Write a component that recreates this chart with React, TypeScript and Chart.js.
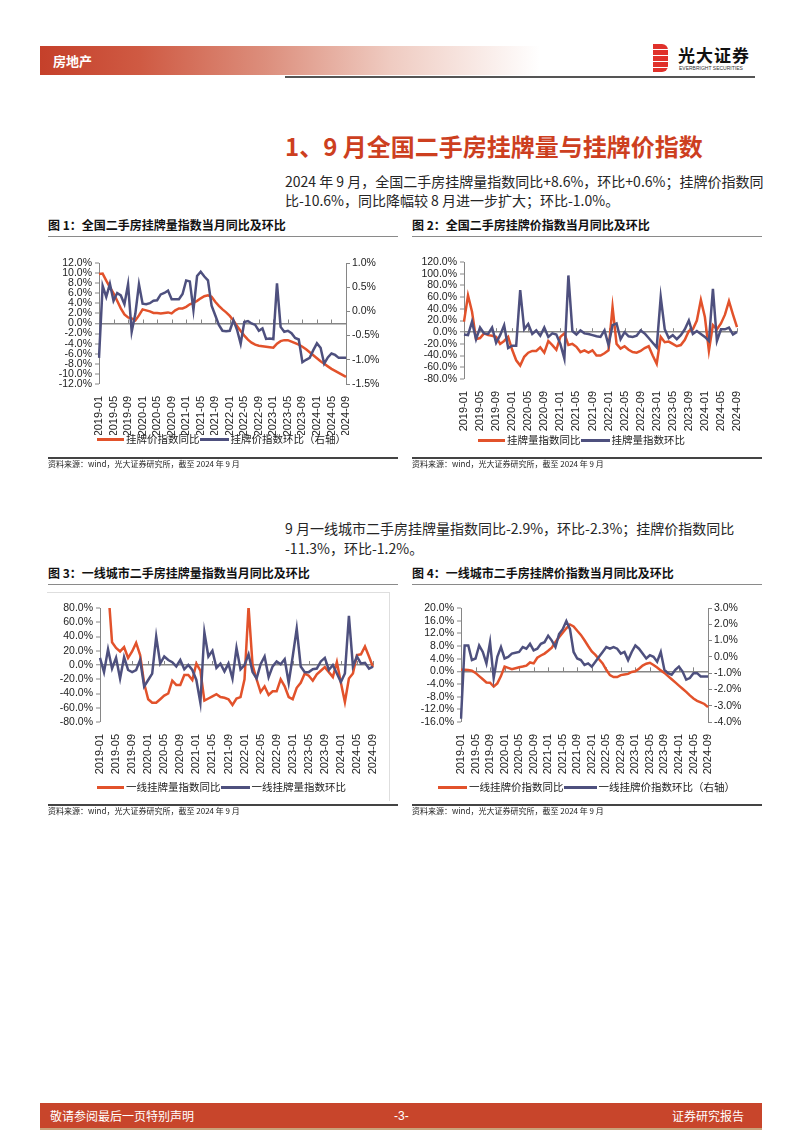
import React, { useEffect, useRef } from "react";
import { Chart, registerables } from "chart.js";

Chart.register(...registerables);

const FONT = "'Liberation Sans', Arial, 'Noto Sans CJK SC', sans-serif";
const CJK = "'Noto Sans CJK SC', 'Liberation Sans', sans-serif";
const RED = "#E2522B";
const BLUE = "#4E507E";
const AXIS = "#868686";

const MONTHS: string[] = [];
for (let y = 2019; y <= 2024; y++) {
  for (let m = 1; m <= 12; m++) {
    if (y === 2024 && m > 9) break;
    MONTHS.push(`${y}-${String(m).padStart(2, "0")}`);
  }
}

// 图1 全国挂牌价指数
const natPriceYoY = [
  9.8, 9.9, 8.5, 7.2, 6.0, 4.5, 3.0, 1.8, 1.2, 1.0, 0.6, 1.6,
  2.8, 2.6, 2.4, 2.1, 2.1, 2.0, 2.1, 2.2, 2.0, 2.6, 3.0, 3.0,
  3.3, 3.8, 4.1, 4.5, 5.0, 5.4, 5.6, 5.3, 4.3, 3.5, 2.8, 2.2,
  1.5, 0.6, -0.5, -1.5, -2.4, -3.2, -3.8, -4.2, -4.4, -4.5, -4.6, -4.7,
  -4.8, -4.0, -3.5, -3.3, -3.3, -3.6, -3.9, -4.2, -4.6, -5.1, -5.7, -6.3,
  -6.9, -7.5, -8.0, -8.5, -9.0, -9.4, -9.8, -10.2, -10.6,
];
const natPriceMoM = [
  -0.96, 0.53, 0.3, 0.57, 0.22, 0.38, 0.33, 0.15, 0.56, -0.42, -0.05, 0.56,
  0.16, 0.15, 0.17, 0.22, 0.23, 0.35, 0.38, 0.43, 0.25, 0.25, 0.25, 0.36,
  0.64, 0.62, 0.03, 0.73, 0.82, 0.72, 0.64, 0.12, -0.08, -0.28, -0.4, -0.41,
  -0.4, -0.18, -0.38, -0.67, -0.22, -0.2, -0.25, -0.28, -0.4, -0.35, -0.57, -0.56,
  -0.57, 0.58, -0.32, -0.42, -0.4, -0.45, -0.55, -0.58, -1.05, -1.0, -0.96, -0.8,
  -0.66, -0.75, -1.08, -0.95, -0.87, -0.9, -0.96, -0.96, -0.96,
];

// 图2 全国挂牌量指数
const natVolYoY = [
  18, 63, 35, -12, -10, -2, -5, -6, -8, -20, -15, -8,
  -30, -48, -57, -42, -35, -32, -32, -26, -35, -15, -22, -30,
  -8, -2, -22, -20, -25, -34, -31, -35, -31, -40, -40, -36,
  -31, 43, -20, -28, -24, -30, -34, -35, -32, -27, -24, -40,
  -54, -8, -17, -16, -20, -24, -22, -13, 2, 5, 20, 55,
  26, -32, 12, 5, 15, 30, 53, 30, 8.6,
];
const natVolMoM = [
  -4, -5, 18, -12, 8, -2, -3, 8, -18, -5, 12, -27,
  -23, -23, 72, 5, 14, -3, 3, -6, 8, -8, -2, -4,
  -20, -45, 97, 2, -4, 3, -2, -3, -5, -7, -8, 3,
  -22, 12, 15, -12, 0, -7, -8, -6, 3, -2, -10, -18,
  -26, 60, 5, -10, -5, -12, -5, 5, 20, -3, 2, -3,
  -8, -15, 74, -15, 5, 5, 8, -4, 0.6,
];

// 图3 一线城市挂牌量指数
const t1VolYoY: (number | null)[] = [
  null, null, 110, 32, 24, 19, 25, 10, 19, 31, 14, -26,
  -48, -53, -53, -48, -43, -40, -22, -28, -28, -14, -14, -21,
  2, -8, -50, -47, -44, -41, -45, -46, -48, -56, -47, -45,
  -20, 82, 0, -20, -38, -30, -42, -37, -37, -20, -30, -45,
  -48, -32, -25, -12, -15, -22, -13, -8, -3, -10, -17, 4,
  -25, -52, -19, -12, 14, 15, 26, 12, -2.9,
];
const t1VolMoM = [
  10, -10, 22, -5, 10, -19, 11, -7, -10, -7, 7, -30,
  -21, -12, 40, 2, 12, 7, 4, -2, 7, -6, 0, -7,
  -21, -53, 46, 12, 20, -4, 2, -9, 2, -19, 24, -6,
  0, 15, -10, -19, 1, 12, -17, -2, 5, 1, 8, -25,
  12, 51, -2, -10, -10, -6, -5, 5, 10, -7, 0, -12,
  -24, -12, 69, -2, 12, 2, 3, -5, -2.3,
];

// 图4 一线城市挂牌价指数
const t1PriceYoY = [
  0.5, 0.5, 0.4, 0.2, -0.5, -1.5, -2.5, -3.5, -3.6, -4.8, -3.8, -1.5,
  1.5, 1.1, 0.7, 1.0, 1.3, 1.5, 1.8, 2.8, 2.5, 4.3, 5.0, 5.6,
  6.5, 7.5, 9.3, 10.8, 12.2, 13.6, 14.8, 14.2, 12.8, 11.5, 9.8, 8.0,
  6.3, 5.2, 3.8, 2.5, 0.5, -1.2, -1.8, -1.8, -1.2, -1.0, -0.8, -0.2,
  0.0, 0.8, 1.8, 2.4, 2.7, 2.0, 1.2, 0.3, -0.5, -1.5, -2.5, -3.5,
  -4.5, -5.5, -6.5, -7.6, -8.6, -9.3, -9.8, -10.3, -11.3,
];
const t1PriceMoM = [
  -3.8, 0.7, 0.7, -0.2, -0.1, 0.7, 0.3, -0.4, 0.9, -1.3, 0.0, 0.6,
  -0.1, 0.0, 0.2, 0.25, 0.3, 0.6, 0.5, 0.8, 0.4, 0.5, 0.8, 0.9,
  1.3, 1.0, 0.6, 1.4, 1.7, 2.2, 1.7, 0.3, -0.1, -0.2, -0.5, -0.4,
  -0.6, -0.3, 0.0, 0.3, 0.6, 0.5, 0.6, 0.5, 0.2, 0.3, -0.2, 0.3,
  0.7, 0.5, 0.2, -0.1, 0.1, 0.0, -0.3, 0.3, -0.8, -1.0, -1.1, -0.8,
  -0.6, -0.9, -1.4, -1.3, -1.0, -1.0, -1.2, -1.2, -1.2,
];

type Range = { min: number; max: number; step: number };
type Area = { l: number; r: number; t: number; b: number };

const zeroTicks = {
  id: "zeroTicks",
  beforeDatasetsDraw(chart: any) {
    const x = chart.scales.x;
    const y = chart.scales.y;
    const ctx = chart.ctx;
    const y0 = y.getPixelForValue(0);
    ctx.save();
    ctx.strokeStyle = AXIS;
    ctx.lineWidth = 1;
    for (let i = 0; i < MONTHS.length; i += 4) {
      const px = Math.round(x.getPixelForValue(i)) + 0.5;
      ctx.beginPath();
      ctx.moveTo(px, y0);
      ctx.lineTo(px, y0 - 4);
      ctx.stroke();
    }
    ctx.restore();
  },
};

function LineChart(props: {
  left: number;
  top: number;
  width: number;
  height: number;
  area: Area;
  red: (number | null)[];
  blue: (number | null)[];
  redLabel: string;
  blueLabel: string;
  yl: Range;
  yr?: Range;
}) {
  const ref = useRef<HTMLCanvasElement>(null);
  const { left, top, width, height, area, red, blue, redLabel, blueLabel, yl, yr } = props;
  useEffect(() => {
    const pct = (v: any) => Number(v).toFixed(1) + "%";
    const scales: any = {
      x: {
        type: "category",
        offset: false,
        grid: { display: false },
        border: { display: false },
        ticks: {
          autoSkip: false,
          minRotation: 90,
          maxRotation: 90,
          padding: 4,
          color: "#222",
          font: { family: FONT, size: 11 },
          callback: (_v: any, i: number) => (i % 4 === 0 ? MONTHS[i] : ""),
        },
        afterFit: (s: any) => {
          s.height = height - area.b;
        },
      },
      y: {
        position: "left",
        min: yl.min,
        max: yl.max,
        ticks: {
          stepSize: yl.step,
          autoSkip: false,
          padding: 3,
          color: "#222",
          font: { family: FONT, size: 10.5 },
          callback: pct,
        },
        grid: {
          color: (c: any) => (c.tick && c.tick.value === 0 ? AXIS : "rgba(0,0,0,0)"),
          lineWidth: (c: any) => (c.tick && c.tick.value === 0 ? 1.5 : 0),
          tickColor: AXIS,
          tickWidth: 1,
          tickLength: 4,
        },
        border: { display: true, color: AXIS, width: 1 },
        afterFit: (s: any) => {
          s.width = area.l;
        },
      },
    };
    if (yr) {
      scales.y1 = {
        position: "right",
        min: yr.min,
        max: yr.max,
        ticks: {
          stepSize: yr.step,
          autoSkip: false,
          padding: 2,
          color: "#222",
          font: { family: FONT, size: 10.5 },
          callback: pct,
        },
        grid: { drawOnChartArea: false, tickColor: AXIS, tickWidth: 1, tickLength: 4 },
        border: { display: true, color: AXIS, width: 1 },
        afterFit: (s: any) => {
          s.width = width - area.r;
        },
      };
    }
    const chart = new Chart(ref.current as HTMLCanvasElement, {
      type: "line",
      data: {
        labels: MONTHS,
        datasets: [
          {
            label: redLabel,
            data: red as any,
            borderColor: RED,
            backgroundColor: RED,
            borderWidth: 2.5,
            pointRadius: 0,
            tension: 0,
            yAxisID: "y",
            order: 1,
          },
          {
            label: blueLabel,
            data: blue as any,
            borderColor: BLUE,
            backgroundColor: BLUE,
            borderWidth: 2.5,
            pointRadius: 0,
            tension: 0,
            yAxisID: yr ? "y1" : "y",
            order: 0,
          },
        ],
      },
      options: {
        responsive: false,
        animation: false,
        devicePixelRatio: 1,
        events: [],
        layout: { padding: { top: area.t, left: 0, bottom: 0, right: yr ? 0 : width - area.r } },
        plugins: { legend: { display: false }, tooltip: { enabled: false } },
        scales,
      } as any,
      plugins: [zeroTicks],
    });
    return () => chart.destroy();
  }, []);
  return (
    <canvas
      ref={ref}
      width={width}
      height={height}
      style={{ position: "absolute", left, top, width, height }}
    />
  );
}

function Legend(props: { left: number; top: number; items: { color: string; text: string; w: number }[] }) {
  return (
    <div
      style={{
        position: "absolute",
        left: props.left,
        top: props.top,
        height: 14,
        display: "flex",
        alignItems: "center",
        fontFamily: CJK,
        fontSize: 10.5,
        color: "#222",
        whiteSpace: "nowrap",
      }}
    >
      {props.items.map((it, i) => (
        <React.Fragment key={i}>
          <span style={{ display: "inline-block", width: it.w, height: 3, background: it.color }} />
          <span style={{ marginLeft: 2, lineHeight: "14px" }}>{it.text}</span>
        </React.Fragment>
      ))}
    </div>
  );
}

const abs = (s: React.CSSProperties): React.CSSProperties => ({ position: "absolute", ...s });

function FigTitle(props: { left: number; top: number; text: string }) {
  return (
    <>
      <div
        style={abs({
          left: props.left,
          top: props.top,
          fontFamily: CJK,
          fontWeight: 700,
          fontSize: 12,
          lineHeight: "14px",
          color: "#111",
          whiteSpace: "nowrap",
        })}
      >
        {props.text}
      </div>
      <div style={abs({ left: props.left, top: props.top + 18, width: 350, height: 1, background: "#8a8a8a" })} />
    </>
  );
}

function Source(props: { left: number; top: number }) {
  return (
    <>
      <div style={abs({ left: props.left, top: props.top, width: 350, height: 1.5, background: "#444" })} />
      <div
        style={abs({
          left: props.left,
          top: props.top + 2,
          fontFamily: CJK,
          fontSize: 8,
          lineHeight: "10px",
          color: "#222",
          whiteSpace: "nowrap",
        })}
      >
        资料来源：wind，光大证券研究所，截至 2024 年 9 月
      </div>
    </>
  );
}

export default function App() {
  const para: React.CSSProperties = {
    position: "absolute",
    left: 285,
    fontFamily: CJK,
    fontSize: 14,
    lineHeight: "20px",
    color: "#262626",
    whiteSpace: "nowrap",
  };
  return (
    <div
      style={{
        position: "absolute",
        left: 0,
        top: 0,
        width: 802,
        height: 1133,
        background: "#fff",
        overflow: "hidden",
      }}
    >
      {/* header */}
      <div
        style={abs({
          left: 40,
          top: 46,
          width: 500,
          height: 29,
          background:
            "linear-gradient(to right, #C5402A 0%, #CF5A43 20%, #DC8E7C 45%, #EFCBC1 70%, #ffffff 100%)",
        })}
      />
      <div
        style={abs({
          left: 53,
          top: 52,
          fontFamily: CJK,
          fontWeight: 700,
          fontSize: 13,
          lineHeight: "17px",
          color: "#fff",
        })}
      >
        房地产
      </div>
      <div style={abs({ left: 285, top: 76, width: 470, height: 2, background: "#555" })} />
      <div
        style={abs({
          left: 653,
          top: 44,
          width: 15,
          height: 28,
          borderRadius: "0 6px 6px 0",
          background:
            "repeating-linear-gradient(to bottom, #E0312B 0px, #E0312B 5px, #ffffff 5px, #ffffff 6px)",
        })}
      />
      <div
        style={abs({
          left: 678,
          top: 45,
          fontFamily: CJK,
          fontWeight: 700,
          fontSize: 17,
          lineHeight: "20px",
          color: "#111",
          letterSpacing: 1,
        })}
      >
        光大证券
      </div>
      <div
        style={abs({
          left: 679,
          top: 65,
          fontFamily: FONT,
          fontSize: 5,
          lineHeight: "6px",
          color: "#333",
          whiteSpace: "nowrap",
        })}
      >
        EVERBRIGHT SECURITIES
      </div>

      {/* section title */}
      <div
        style={abs({
          left: 285,
          top: 132,
          fontFamily: CJK,
          fontWeight: 700,
          fontSize: 24,
          lineHeight: "28px",
          color: "#CD3F1F",
          whiteSpace: "nowrap",
        })}
      >
        1、9 月全国二手房挂牌量与挂牌价指数
      </div>
      <div style={{ ...para, top: 171 }}>2024 年 9 月，全国二手房挂牌量指数同比+8.6%，环比+0.6%；挂牌价指数同</div>
      <div style={{ ...para, top: 190 }}>比-10.6%，同比降幅较 8 月进一步扩大；环比-1.0%。</div>

      <FigTitle left={48} top={218} text="图 1：全国二手房挂牌量指数当月同比及环比" />
      <FigTitle left={412} top={218} text="图 2：全国二手房挂牌价指数当月同比及环比" />

      <LineChart
        left={48}
        top={250}
        width={350}
        height={185}
        area={{ l: 51, r: 298, t: 13, b: 134 }}
        red={natPriceYoY}
        blue={natPriceMoM}
        redLabel="挂牌价指数同比"
        blueLabel="挂牌价指数环比（右轴）"
        yl={{ min: -12, max: 12, step: 2 }}
        yr={{ min: -1.5, max: 1.0, step: 0.5 }}
      />
      <Legend
        left={97}
        top={432}
        items={[
          { color: RED, text: "挂牌价指数同比", w: 27 },
          { color: BLUE, text: "挂牌价指数环比（右轴）", w: 29 },
        ]}
      />
      <Source left={48} top={457} />

      <LineChart
        left={412}
        top={250}
        width={350}
        height={185}
        area={{ l: 52, r: 325, t: 12, b: 129 }}
        red={natVolYoY}
        blue={natVolMoM}
        redLabel="挂牌量指数同比"
        blueLabel="挂牌量指数环比"
        yl={{ min: -80, max: 120, step: 20 }}
      />
      <Legend
        left={478}
        top={433}
        items={[
          { color: RED, text: "挂牌量指数同比", w: 27 },
          { color: BLUE, text: "挂牌量指数环比", w: 29 },
        ]}
      />
      <Source left={412} top={457} />

      <div style={{ ...para, top: 518 }}>9 月一线城市二手房挂牌量指数同比-2.9%，环比-2.3%；挂牌价指数同比</div>
      <div style={{ ...para, top: 538 }}>-11.3%，环比-1.2%。</div>

      <FigTitle left={48} top={566} text="图 3：一线城市二手房挂牌量指数当月同比及环比" />
      <FigTitle left={412} top={566} text="图 4：一线城市二手房挂牌价指数当月同比及环比" />

      <div
        style={abs({
          left: 47,
          top: 592,
          width: 342,
          height: 208,
          borderTop: "1px solid #dedede",
          borderRight: "1px solid #dedede",
        })}
      />
      <LineChart
        left={48}
        top={595}
        width={350}
        height={185}
        area={{ l: 52, r: 325, t: 13, b: 127 }}
        red={t1VolYoY}
        blue={t1VolMoM}
        redLabel="一线挂牌量指数同比"
        blueLabel="一线挂牌量指数环比"
        yl={{ min: -80, max: 80, step: 20 }}
      />
      <Legend
        left={97}
        top={780}
        items={[
          { color: RED, text: "一线挂牌量指数同比", w: 27 },
          { color: BLUE, text: "一线挂牌量指数环比", w: 29 },
        ]}
      />
      <Source left={48} top={804} />

      <LineChart
        left={412}
        top={595}
        width={350}
        height={185}
        area={{ l: 49, r: 296, t: 13, b: 127 }}
        red={t1PriceYoY}
        blue={t1PriceMoM}
        redLabel="一线挂牌价指数同比"
        blueLabel="一线挂牌价指数环比（右轴）"
        yl={{ min: -16, max: 20, step: 4 }}
        yr={{ min: -4, max: 3, step: 1 }}
      />
      <Legend
        left={438}
        top={780}
        items={[
          { color: RED, text: "一线挂牌价指数同比", w: 29 },
          { color: BLUE, text: "一线挂牌价指数环比（右轴）", w: 33 },
        ]}
      />
      <Source left={412} top={804} />

      {/* footer */}
      <div style={abs({ left: 40, top: 1103, width: 722, height: 25, background: "#C8452B" })} />
      <div style={abs({ left: 40, top: 1128, width: 722, height: 2, background: "#C9A27A" })} />
      <div
        style={abs({
          left: 50,
          top: 1108,
          fontFamily: CJK,
          fontSize: 12,
          lineHeight: "16px",
          color: "#fff",
          whiteSpace: "nowrap",
        })}
      >
        敬请参阅最后一页特别声明
      </div>
      <div
        style={abs({
          left: 394,
          top: 1108,
          fontFamily: FONT,
          fontSize: 12,
          lineHeight: "16px",
          color: "#fff",
        })}
      >
        -3-
      </div>
      <div
        style={abs({
          left: 672,
          top: 1108,
          fontFamily: CJK,
          fontSize: 12,
          lineHeight: "16px",
          color: "#fff",
          whiteSpace: "nowrap",
        })}
      >
        证券研究报告
      </div>
    </div>
  );
}
